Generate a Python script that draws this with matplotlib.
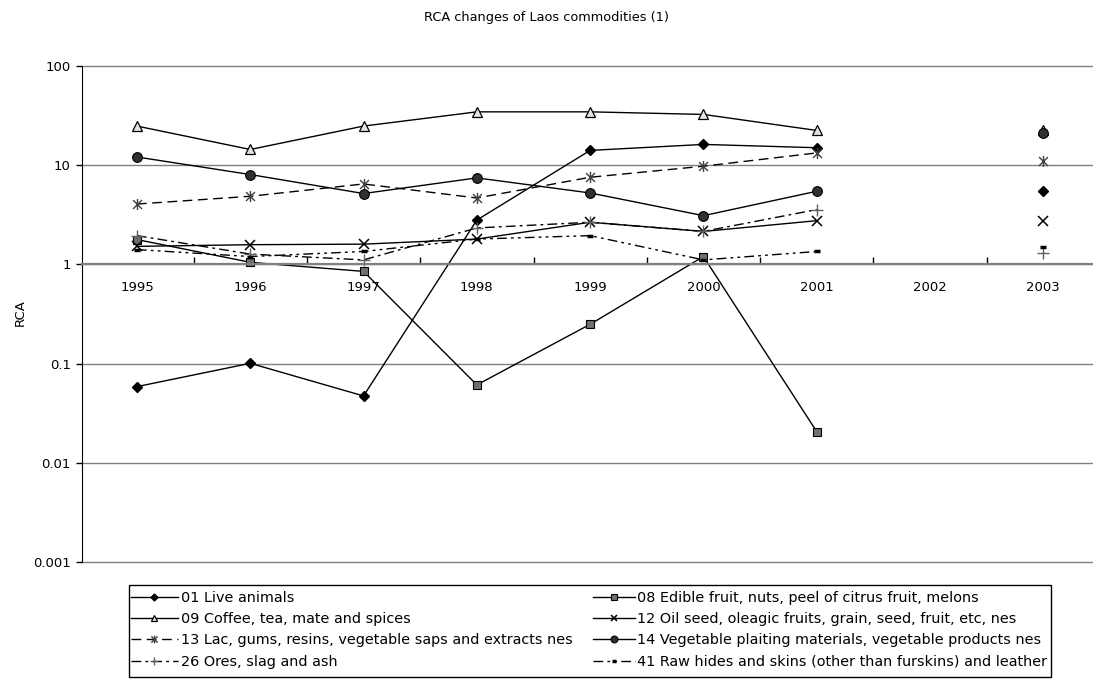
import numpy as np
import matplotlib
matplotlib.use("Agg")
import matplotlib.pyplot as plt
from matplotlib.path import Path
from matplotlib.patches import Rectangle
from matplotlib.ticker import FixedLocator, FixedFormatter, NullFormatter

plt.rcParams['font.family'] = ['DejaVu Sans']

nan = np.nan
years = ['1995', '1996', '1997', '1998', '1999', '2000', '2001', '2002', '2003']
live_animals = [0.0586, 0.1007, 0.0472, 2.8, 14.1, 16.2, 15.0, nan, 5.55]
edible_fruit = [1.78, 1.05, 0.85, 0.061, 0.249, 1.2, 0.0206, nan, nan]
coffee_tea = [24.8, 14.4, 24.8, 34.5, 34.5, 32.5, 22.4, nan, 22.9]
oil_seed = [1.52, 1.58, 1.6, 1.8, 2.66, 2.15, 2.76, nan, 2.72]
lac_gums = [4.06, 4.86, 6.47, 4.67, 7.56, 9.77, 13.3, nan, 11.0]
veg_plaiting = [12.1, 8.05, 5.18, 7.45, 5.25, 3.1, 5.46, nan, 21.2]
ores_slag = [1.95, 1.27, 1.11, 2.33, 2.66, 2.15, 3.57, nan, 1.3]
raw_hides = [1.41, 1.2, 1.35, 1.8, 1.95, 1.11, 1.35, nan, 1.49]

labels = ['01 Live animals',
          '08 Edible fruit, nuts, peel of citrus fruit, melons',
          '09 Coffee, tea, mate and spices',
          '12 Oil seed, oleagic fruits, grain, seed, fruit, etc, nes',
          '13 Lac, gums, resins, vegetable saps and extracts nes',
          '14 Vegetable plaiting materials, vegetable products nes',
          '26 Ores, slag and ash',
          '41 Raw hides and skins (other than furskins) and leather']

star = Path([(0, -1), (0, 1), (-0.8, -0.8), (0.8, 0.8), (-0.8, 0.8), (0.8, -0.8)],
            [Path.MOVETO, Path.LINETO, Path.MOVETO, Path.LINETO, Path.MOVETO, Path.LINETO])

W, H = 1093, 680
fig = plt.figure(figsize=(W/100, H/100), dpi=100)
ax = fig.add_axes([82/W, 1-562/H, 1-82/W, (562-66)/H])

x = np.arange(len(years))
lw = 1.0
h = {}
h['01'], = ax.plot(x, live_animals, color='black', lw=lw, marker='D', ms=5,
                   mfc='black', mec='black')
h['08'], = ax.plot(x, edible_fruit, color='black', lw=lw, marker='s', ms=6,
                   mfc='#707070', mec='black', mew=0.8)
h['09'], = ax.plot(x, coffee_tea, color='black', lw=lw, marker='^', ms=7,
                   mfc='#e4e4e4', mec='black', mew=0.9)
h['12'], = ax.plot(x, oil_seed, color='black', lw=lw, marker='x', ms=7,
                   mec='black', mew=1.1)
h['13'], = ax.plot(x, lac_gums, color='black', lw=lw, ls=(0, (7, 4)), marker=star,
                   ms=8, mfc='none', mec='#404040', mew=1.0)
h['14'], = ax.plot(x, veg_plaiting, color='black', lw=lw, marker='o', ms=7,
                   mfc='#303030', mec='black', mew=0.8)
h['26'], = ax.plot(x, ores_slag, color='black', lw=lw, ls=(0, (7, 3, 2, 3)), marker='+',
                   ms=8, mec='#606060', mew=1.0)
h['41'], = ax.plot(x, raw_hides, color='black', lw=lw, ls=(0, (7, 3, 2, 3, 2, 3)),
                   marker='_', ms=5, mec='black', mew=2.5)

ax.set_yscale('log')
ax.set_ylim(0.001, 100)
ax.set_xlim(-0.485, -0.485 + 1011/113.3)

yt = [0.001, 0.01, 0.1, 1, 10, 100]
ax.yaxis.set_major_locator(FixedLocator(yt))
ax.yaxis.set_major_formatter(FixedFormatter(['0.001', '0.01', '0.1', '1', '10', '100']))
ax.yaxis.set_minor_locator(FixedLocator([]))
ax.tick_params(axis='y', which='major', direction='out', length=4, width=1,
               labelsize=9.5, pad=4)
ax.grid(axis='y', which='major', color='#808080', lw=1.0)
ax.set_axisbelow(True)
for gl in ax.get_ygridlines():
    gl.set_clip_on(False)

ax.spines['bottom'].set_position(('data', 1))
ax.spines['bottom'].set_color('#808080')
ax.spines['bottom'].set_linewidth(1.6)
ax.spines['top'].set_visible(False)
ax.spines['right'].set_visible(False)
ax.spines['left'].set_color('black')

ax.xaxis.set_major_locator(FixedLocator(x))
ax.xaxis.set_major_formatter(FixedFormatter(years))
ax.xaxis.set_minor_locator(FixedLocator(x[:-1] + 0.5))
ax.xaxis.set_minor_formatter(NullFormatter())
ax.tick_params(axis='x', which='major', length=0, labelsize=9.5, pad=12)
ax.tick_params(axis='x', which='minor', direction='in', length=5, width=1, color='black')

fig.text(20/W, 1-313/H, 'RCA', rotation=90, ha='center', va='center', fontsize=9.5)
fig.text(0.5, 1-17/H, 'RCA changes of Laos commodities (1)', ha='center', va='center',
         fontsize=9.3)

lab_map = dict(zip(['01', '08', '09', '12', '13', '14', '26', '41'], labels))
col1 = ['01', '09', '13', '26']
col2 = ['08', '12', '14', '41']
common = dict(loc='upper left', frameon=False, fontsize=10.4, labelspacing=0.5,
              borderpad=0, borderaxespad=0, markerscale=0.7)
fig.legend([h[k] for k in col1], [lab_map[k] for k in col1],
           bbox_to_anchor=(131/W, 1-591/H), handlelength=3.25,
           handletextpad=0.2, **common)
fig.legend([h[k] for k in col2], [lab_map[k] for k in col2],
           bbox_to_anchor=(593/W, 1-591/H), handlelength=2.9,
           handletextpad=0.14, **common)
fig.patches.append(Rectangle((129/W, 1-677/H), (1051-129)/W, (677-585)/H,
                             transform=fig.transFigure, fill=False,
                             edgecolor='black', lw=1.0))

fig.savefig('out.png', dpi=100)
